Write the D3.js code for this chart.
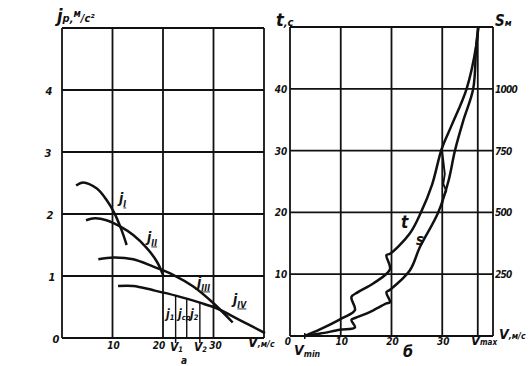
<!DOCTYPE html>
<html>
<head>
<meta charset="utf-8">
<script src="https://cdn.jsdelivr.net/npm/d3@7"></script>
<style>
  body { margin: 0; background: #fff; }
  svg { display: block; }
  text { font-family: "DejaVu Sans Condensed", "DejaVu Sans", sans-serif; font-style: italic; font-weight: bold; fill: #111; }
</style>
</head>
<body>
<svg width="530" height="366"></svg>
<script>
// left panel: acceleration by gear, j (m/s2) vs V (m/s)
const jI   = [[2.8,2.46],[4.2,2.51],[6.9,2.41],[8.8,2.23],[10.4,2.01],[11.8,1.74],[12.8,1.5]];
const jII  = [[4.75,1.9],[6.5,1.93],[8.8,1.9],[11.5,1.8],[14.1,1.66],[16.8,1.45],[18.8,1.23],[20.1,1.0]];
const jIII = [[7.2,1.27],[10.2,1.3],[14.1,1.27],[18.1,1.15],[22,1.02],[26,0.83],[30,0.56],[33.8,0.25]];
const jIV  = [[11.1,0.84],[14.1,0.84],[18.1,0.77],[22.7,0.68],[27.3,0.57],[30.6,0.48],[35.2,0.29],[40.2,0.08]];
const stripV = [22.5, 24.7, 27.3];
const stripTop = [0.68, 0.63, 0.57];
const leftYTicks = [0, 1, 2, 3, 4];
const leftXTicks = [10, 20, 30];

// right panel: time t (s) and path S (m) vs V (m/s)
const tCurve = [[2.9,0],[6,1.1],[10.2,2.85],[12.8,4.2],[12.1,6.3],[13.4,7.1],[16.4,8.5],[19.7,10.8],[19.0,13.1],[19.7,13.3],
  [23.6,16.6],[25.8,20],[28,24.5],[29.9,30.3],[31.8,34],[34.8,40],[36.7,47],[37.1,50]];
const sCurve = [[2.9,0],[6,10],[9.8,25],[12.8,35],[12.1,65],[13.1,75],[15.7,97],[19.0,132],[19.7,137],[19.0,177],[19.7,187],
  [23.6,265],[25.6,360],[29.2,500],[31.2,625],[32.5,750],[34.2,875],[36.1,1000],[36.7,1175],[37.1,1250]];
const shiftIII = [[29.9,20.8],[30.2,22.4],[30.8,23.5],[30.2,24.6],[30.5,26.2],[30.2,28.4],[29.9,30.3]];
const vMin = 2.9, vMax = 37;
const rightXTicks = [0, 10, 20, 30];
const tTicks = [10, 20, 30, 40];
const sTicks = [250, 500, 750, 1000];

const svg = d3.select("svg");
const ink = "#111";

const xL = d3.scaleLinear().domain([0, 40]).range([62, 264]);
const yL = d3.scaleLinear().domain([0, 5]).range([338, 28]);
const xR = d3.scaleLinear().domain([0, 40]).range([290, 493]);
const yR = d3.scaleLinear().domain([0, 50]).range([336, 27]);
const sR = d3.scaleLinear().domain([0, 1250]).range([336, 27]);

function grid(x, y, xs, ys) {
  const g = svg.append("g").attr("stroke", ink).attr("stroke-width", 1.8).attr("fill", "none");
  xs.forEach(v => g.append("line").attr("x1", x(v)).attr("x2", x(v)).attr("y1", y.range()[0]).attr("y2", y.range()[1]));
  ys.forEach(v => g.append("line").attr("y1", y(v)).attr("y2", y(v)).attr("x1", x.range()[0]).attr("x2", x.range()[1]));
}
grid(xL, yL, [0, 10, 20, 30, 40], [0, 1, 2, 3, 4, 5]);
grid(xR, yR, [0, 10, 20, 30, vMax, 40], [0, 10, 20, 30, 40, 50]);

const lineL = d3.line().x(d => xL(d[0])).y(d => yL(d[1])).curve(d3.curveCatmullRom.alpha(0.5));
const lineT = d3.line().x(d => xR(d[0])).y(d => yR(d[1])).curve(d3.curveCatmullRom.alpha(0.5));
const lineS = d3.line().x(d => xR(d[0])).y(d => sR(d[1])).curve(d3.curveCatmullRom.alpha(0.5));

[jI, jII, jIII, jIV].forEach(c => svg.append("path").attr("d", lineL(c))
  .attr("fill", "none").attr("stroke", ink).attr("stroke-width", 2.5));
svg.append("path").attr("d", lineT(tCurve)).attr("fill", "none").attr("stroke", ink).attr("stroke-width", 2.5);
svg.append("path").attr("d", lineS(sCurve)).attr("fill", "none").attr("stroke", ink).attr("stroke-width", 2.5);
svg.append("path").attr("d", d3.line().x(d => xR(d[0])).y(d => yR(d[1]))(shiftIII))
  .attr("fill", "none").attr("stroke", ink).attr("stroke-width", 1.9);

// strips under j_IV
stripV.forEach((v, i) => svg.append("line").attr("x1", xL(v)).attr("x2", xL(v))
  .attr("y1", yL(stripTop[i])).attr("y2", yL(0)).attr("stroke", ink).attr("stroke-width", 1.4));
[stripV[0], stripV[2]].forEach(v => svg.append("line").attr("x1", xL(v)).attr("x2", xL(v))
  .attr("y1", yL(0)).attr("y2", yL(0) + 5).attr("stroke", ink).attr("stroke-width", 1.5));
svg.append("line").attr("x1", xR(vMin)).attr("x2", xR(vMin)).attr("y1", yR(0) - 3).attr("y2", yR(0) + 3)
  .attr("stroke", ink).attr("stroke-width", 1.5);

// tick labels
leftYTicks.forEach((v, i) => svg.append("text").attr("x", 49 + [7, 3, 1, -1, 0][i]).attr("y", yL(v) + 5)
  .attr("text-anchor", "middle").attr("font-size", 11).text(v));
leftXTicks.forEach((v, i) => svg.append("text").attr("x", xL(v) + [1, -4, 2][i]).attr("y", 349)
  .attr("text-anchor", "middle").attr("font-size", 10).text(v));
tTicks.forEach(v => svg.append("text").attr("x", 281).attr("y", yR(v) + 4)
  .attr("text-anchor", "middle").attr("font-size", 10).text(v));
sTicks.forEach(v => svg.append("text").attr("x", 495).attr("y", sR(v) + 4)
  .attr("font-size", 10).attr("letter-spacing", -0.8).text(v));
rightXTicks.forEach(v => svg.append("text").attr("x", xR(v) + (v ? 1 : -2)).attr("y", 345)
  .attr("text-anchor", "middle").attr("font-size", 10).text(v));

function label(x, y, main, sub, size, opts = {}) {
  const t = svg.append("text").attr("x", x).attr("y", y).attr("font-size", size);
  t.append("tspan").text(main);
  if (sub) {
    const s = t.append("tspan").attr("font-size", size * 0.62).attr("dy", opts.dy ?? size * 0.25).text(sub);
    if (opts.underline) s.attr("text-decoration", "underline");
  }
  return t;
}

// axis titles
const yt = svg.append("text").attr("x", 57).attr("y", 22);
yt.append("tspan").attr("font-size", 18).text("j");
yt.append("tspan").attr("font-size", 11).text("p,");
yt.append("tspan").attr("font-size", 10).attr("dy", -5).text("м");
yt.append("tspan").attr("font-size", 11).attr("dy", 5).text("/с²");
label(276, 26, "t", ",c", 18, { dy: 0 });
label(495, 26, "S", "м", 15, { dy: 0 });
label(248, 347, "V", ",м/с", 14, { dy: 0 });
label(499, 339, "V", ",м/с", 14, { dy: 0 });

// curve names
label(119, 203, "j", "I", 14, { underline: true });
label(147, 242, "j", "II", 14, { underline: true });
label(197, 287, "j", "III", 14, { underline: true });
label(233, 304, "j", "IV", 14, { underline: true });
label(401, 228, "t", null, 17);
label(416, 245, "s", null, 15);

// strip labels and speeds
label(166, 318, "j̇", "1", 12, { dy: 2 });
label(178, 318, "j̇", "ср", 12, { dy: 2 });
label(190, 318, "j̇", "2", 12, { dy: 2 });
label(170, 351, "V", "1", 12, { dy: 1 });
label(194, 351, "V", "2", 12, { dy: 1 });
svg.append("text").attr("x", 181).attr("y", 364).attr("font-size", 10).text("а");
label(294, 355, "V", "min", 14, { dy: 2 });
svg.append("text").attr("x", 403).attr("y", 357).attr("font-size", 16).text("б");
label(471, 345, "V", "max", 13, { dy: 0 });
</script>
</body>
</html>
